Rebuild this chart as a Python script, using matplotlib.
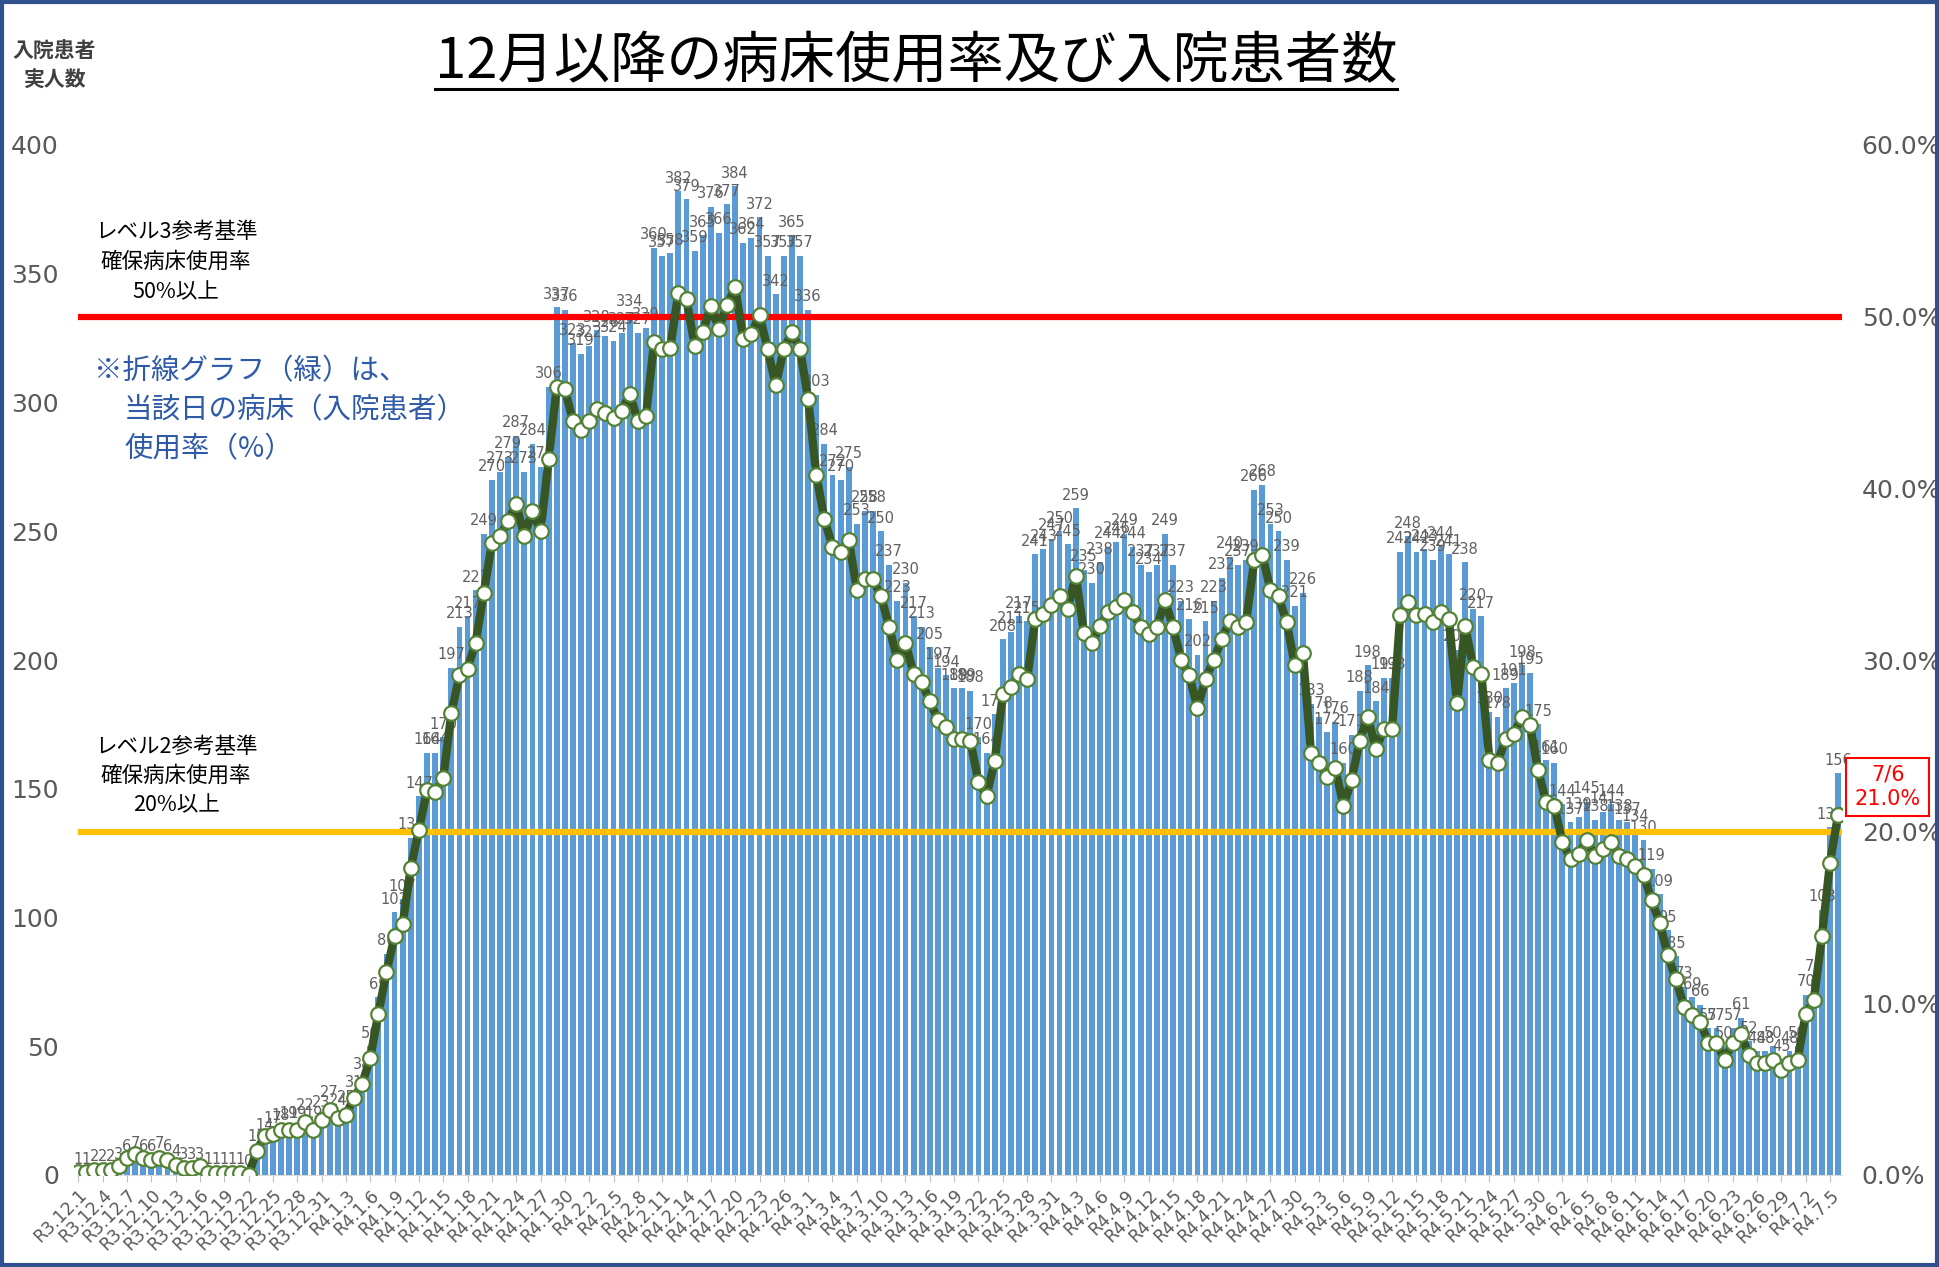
import numpy as np
import pandas as pd
import matplotlib
matplotlib.use('Agg')
import matplotlib.pyplot as plt
from matplotlib.patches import Rectangle
from matplotlib.lines import Line2D
from matplotlib.ticker import FuncFormatter

CJK = ['Noto Sans CJK JP', 'DejaVu Sans']
plt.rcParams['font.family'] = ['DejaVu Sans', 'Noto Sans CJK JP']

# ---------------- data ----------------
dates = pd.date_range('2021-12-01', '2022-07-06', freq='D')

patients = [
    1, 1, 2, 2, 2, 3, 6, 7, 6, 6, 7, 6, 4, 3, 3, 3, 1, 1, 1, 1, 1, 0,
    10, 14, 17, 18, 19, 19, 22, 19, 23, 27, 24, 25, 31, 38, 50,
    69, 86, 102, 107, 131, 147, 164, 164, 170, 197, 213, 217, 227,
    249, 270, 273, 279, 287, 273, 284, 275, 306, 337, 336, 323, 319, 322, 328, 326, 324, 327, 334, 327, 329,
    360, 357, 358, 382, 379, 359, 365, 376, 366, 377, 384, 362, 364, 372, 357, 342, 357, 365, 357, 336,
    303, 284, 272, 270, 275, 253, 258, 258, 250, 237, 223, 230, 217, 213, 205, 197, 194, 189, 189, 188,
    170, 164, 179, 208, 211, 217, 215, 241, 243, 247, 250, 245, 259, 235, 230, 238, 244, 246, 249, 244,
    237, 234, 237, 249, 237, 223, 216, 202, 215, 223, 232, 240, 237, 239, 266, 268, 253, 250, 239, 221,
    226, 183, 178, 172, 176, 160, 171, 188, 198, 184, 193, 193, 242, 248, 242, 243, 239, 244, 241, 204,
    238, 220, 217, 180, 178, 189, 191, 198, 195, 175, 161, 160, 144, 137, 139, 145, 138, 141, 144, 138,
    137, 134, 130, 119, 109, 95, 85, 73, 69, 66, 57, 57, 50, 57, 61, 52, 48, 48, 50, 45,
    48, 50, 70, 76, 103, 135, 156,
]

occupancy = [
    0.2, 0.2, 0.3, 0.3, 0.3, 0.5, 1.0, 1.2, 1.0, 0.9, 1.0, 0.9, 0.6, 0.4, 0.4, 0.5, 0.1, 0.1, 0.1, 0.1, 0.1, 0.0,
    1.4, 2.3, 2.4, 2.6, 2.6, 2.6, 3.1, 2.6, 3.2, 3.8, 3.3, 3.5, 4.5, 5.3, 6.8,
    9.4, 11.8, 13.9, 14.6, 17.9, 20.1, 22.4, 22.3, 23.1, 26.9, 29.1, 29.5, 31.0,
    33.9, 36.8, 37.2, 38.1, 39.1, 37.2, 38.7, 37.5, 41.7, 45.9, 45.8, 43.9, 43.4, 43.9, 44.6, 44.4, 44.1, 44.5, 45.5, 43.9, 44.2,
    48.5, 48.1, 48.2, 51.4, 51.0, 48.3, 49.1, 50.6, 49.3, 50.7, 51.7, 48.7, 49.0, 50.1, 48.1, 46.0, 48.1, 49.1, 48.1, 45.2,
    40.8, 38.2, 36.6, 36.3, 37.0, 34.1, 34.7, 34.7, 33.7, 31.9, 30.0, 31.0, 29.2, 28.7, 27.6, 26.5, 26.1, 25.4, 25.4, 25.3,
    22.9, 22.1, 24.1, 28.0, 28.4, 29.2, 28.9, 32.4, 32.7, 33.2, 33.7, 33.0, 34.9, 31.6, 31.0, 32.0, 32.8, 33.1, 33.5, 32.8,
    31.9, 31.5, 31.9, 33.5, 31.9, 30.0, 29.1, 27.2, 28.9, 30.0, 31.2, 32.3, 31.9, 32.2, 35.8, 36.1, 34.1, 33.7, 32.2, 29.7,
    30.4, 24.6, 24.0, 23.2, 23.7, 21.5, 23.0, 25.3, 26.7, 24.8, 26.0, 26.0, 32.6, 33.4, 32.6, 32.7, 32.2, 32.8, 32.4, 27.5,
    32.0, 29.6, 29.2, 24.2, 24.0, 25.4, 25.7, 26.7, 26.2, 23.6, 21.7, 21.5, 19.4, 18.4, 18.7, 19.5, 18.6, 19.0, 19.4, 18.6,
    18.4, 18.0, 17.5, 16.0, 14.7, 12.8, 11.4, 9.8, 9.3, 8.9, 7.7, 7.7, 6.7, 7.7, 8.2, 7.0, 6.5, 6.5, 6.7, 6.1,
    6.5, 6.7, 9.4, 10.2, 13.9, 18.2, 21.0,
]

tick_labels = [f"R{d.year - 2018}.{d.month}.{d.day}" for d in dates]
left_ticks = [0, 50, 100, 150, 200, 250, 300, 350, 400]
right_ticks = [0, 10, 20, 30, 40, 50, 60]
level3 = 50
level2 = 20

# ---------------- figure ----------------
W, H = 1939, 1267
fig = plt.figure(figsize=(W / 100, H / 100), dpi=100)
fig.patch.set_facecolor('white')

xl, xr, yb, yt = 74.2, 1842.2, 1175, 145
ax = fig.add_axes([xl / W, 1 - yb / H, (xr - xl) / W, (yb - yt) / H])
n = len(dates)
x = np.arange(n)

ax.bar(x, patients, width=0.72, color='#5B9BD5', zorder=2)
for xi, v in zip(x, patients):
    ax.annotate(str(v), (xi, v), xytext=(0, 4), textcoords='offset points',
                ha='center', va='bottom', fontsize=10.5, color='#606060', zorder=3)

ax.set_xlim(-0.5, n - 0.5)
ax.set_ylim(0, 400)
ax.set_yticks(left_ticks)
ax.tick_params(axis='y', length=0, pad=11, labelsize=18, labelcolor='#595959')
ax.set_xticks(x[::3])
ax.set_xticklabels(tick_labels[::3], rotation=45, ha='right', rotation_mode='anchor',
                   fontsize=12.5, color='#595959')
ax.tick_params(axis='x', length=5, color='#BFBFBF', pad=3)
for s in ['top', 'right', 'left']:
    ax.spines[s].set_visible(False)
ax.spines['bottom'].set_color('#D9D9D9')

ax2 = ax.twinx()
ax2.set_ylim(0, 60)
ax2.set_yticks(right_ticks)
ax2.yaxis.set_major_formatter(FuncFormatter(lambda v, p: f"{v:.1f}%"))
ax2.tick_params(axis='y', length=0, pad=14, labelsize=18, labelcolor='#595959')
for s in ax2.spines.values():
    s.set_visible(False)
ax2.hlines(level3, 0, n - 0.5, color='#FF0000', lw=4.5, zorder=2)
ax2.hlines(level2, 0, n - 0.5, color='#FFC000', lw=4.5, zorder=2)
ax2.plot(x, occupancy, color='#375623', lw=6, marker='o', ms=10.5,
         mfc='white', mec='#548235', mew=1.6, zorder=4)

# ---------------- texts ----------------
def px(xp, yp):
    return xp / W, 1 - yp / H

title = fig.text(*px(916, 62), '12月以降の病床使用率及び入院患者数', fontsize=40.5,
                 ha='center', va='center', family=CJK, color='black')
fig.canvas.draw()
bb = title.get_window_extent()
fig.add_artist(Line2D([bb.x0 / W, bb.x1 / W], [1 - 89 / H, 1 - 89 / H],
                      transform=fig.transFigure, color='black', lw=2.2))

fig.text(*px(54.5, 50), '入院患者', fontsize=15, ha='center', va='center',
         family=CJK, color='#404040', fontweight='bold')
fig.text(*px(54.5, 79), '実人数', fontsize=15, ha='center', va='center',
         family=CJK, color='#404040', fontweight='bold')

for txt, yy in [('レベル3参考基準', 232), ('確保病床使用率', 262), ('50%以上', 292)]:
    fig.text(*px(176, yy), txt, fontsize=15.5, ha='center', va='center', family=CJK, color='black')
for txt, yy in [('レベル2参考基準', 747), ('確保病床使用率', 776), ('20%以上', 805)]:
    fig.text(*px(176, yy), txt, fontsize=15.5, ha='center', va='center', family=CJK, color='black')

blue = '#2E5AA8'
fig.text(*px(94, 371), '※折線グラフ（緑）は、', fontsize=20.5, ha='left', va='center', family=CJK, color=blue)
fig.text(*px(124, 410), '当該日の病床（入院患者）', fontsize=20.5, ha='left', va='center', family=CJK, color=blue)
fig.text(*px(124, 449), '使用率（%）', fontsize=20.5, ha='left', va='center', family=CJK, color=blue)

fig.add_artist(Rectangle(px(1846, 816), (1929 - 1846) / W, (816 - 758) / H,
                         transform=fig.transFigure, fill=True, fc='white', ec='#FF0000', lw=1.5))
fig.text(*px(1888, 774), '7/6', fontsize=15, ha='center', va='center', color='#FF0000')
fig.text(*px(1888, 799), '21.0%', fontsize=15, ha='center', va='center', color='#FF0000')

fig.add_artist(Rectangle((2 / W, 2 / H), (W - 4) / W, (H - 4) / H, transform=fig.transFigure,
                         fill=False, ec='#2F528F', lw=3))

fig.savefig('out.png', dpi=100)
